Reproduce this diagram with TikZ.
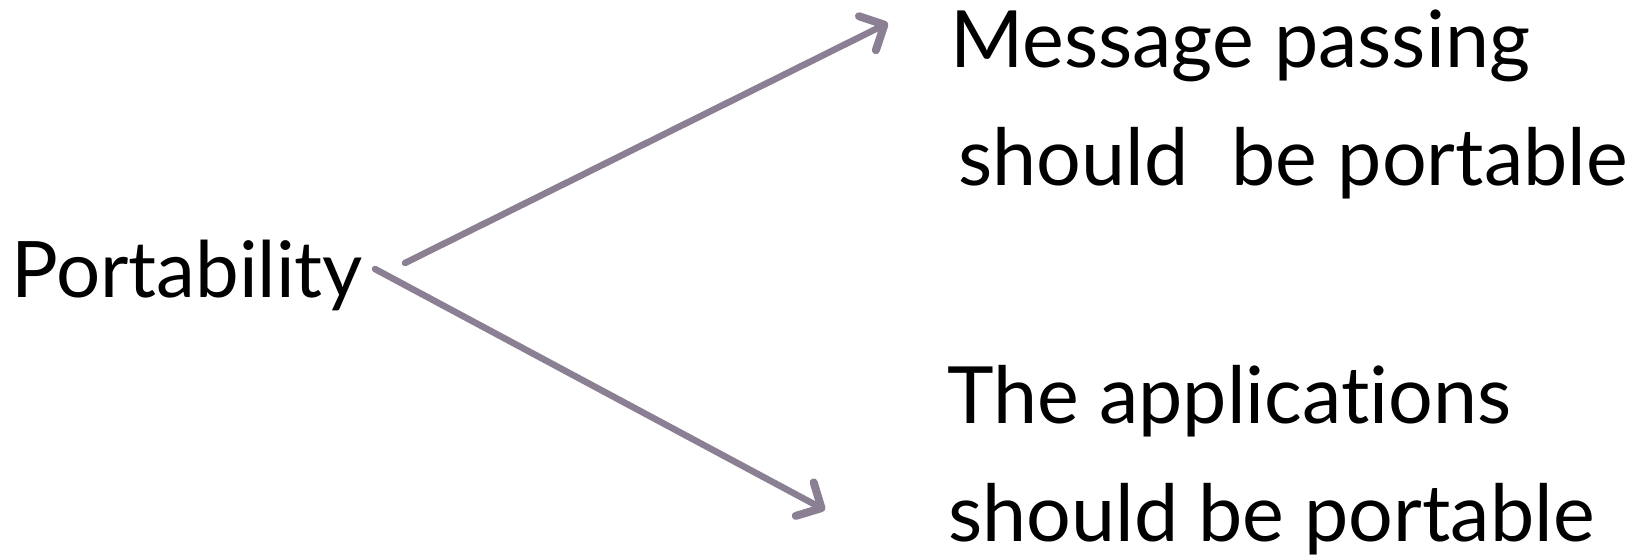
\documentclass[tikz,border=0pt]{standalone}
\usepackage{fontspec}
\setmainfont{Lato}[Ligatures=CommonOff]
\usetikzlibrary{arrows.meta}
\definecolor{arrowgray}{HTML}{8A7F93}
\begin{document}
\begin{tikzpicture}[x=1pt,y=-1pt,
  lefttext/.style={inner sep=0pt,anchor=base west,font=\fontsize{78}{94}\selectfont},
  righttext/.style={inner sep=0pt,anchor=base west,font=\fontsize{79}{95}\selectfont},
  pointer/.style={arrowgray,line width=6.5pt,line cap=round,
    -{Straight Barb[length=19pt,width=38pt,line width=8pt,line cap=round,line join=round]}}]
  \useasboundingbox (0,0) rectangle (1638,559);
  % topic on the left
  \node[lefttext] (port) at (11,297) {Portability};
  % upper statement
  \node[righttext] (msg1) at (950,68) {Message passing};
  \node[righttext] (msg2) at (958,185) {should\hspace{0.55em}be portable};
  % lower statement
  \node[righttext] (app1) at (947,423) {The applications};
  \node[righttext] (app2) at (948,541) {should be portable};
  % arrow ends
  \coordinate (upfrom) at (405,263);
  \coordinate (upto) at (888,23);
  \coordinate (lowfrom) at (375,269);
  \coordinate (lowto) at (825,510);
  \draw[pointer] (upfrom) -- (upto);
  \draw[pointer] (lowfrom) -- (lowto);
\end{tikzpicture}
\end{document}
